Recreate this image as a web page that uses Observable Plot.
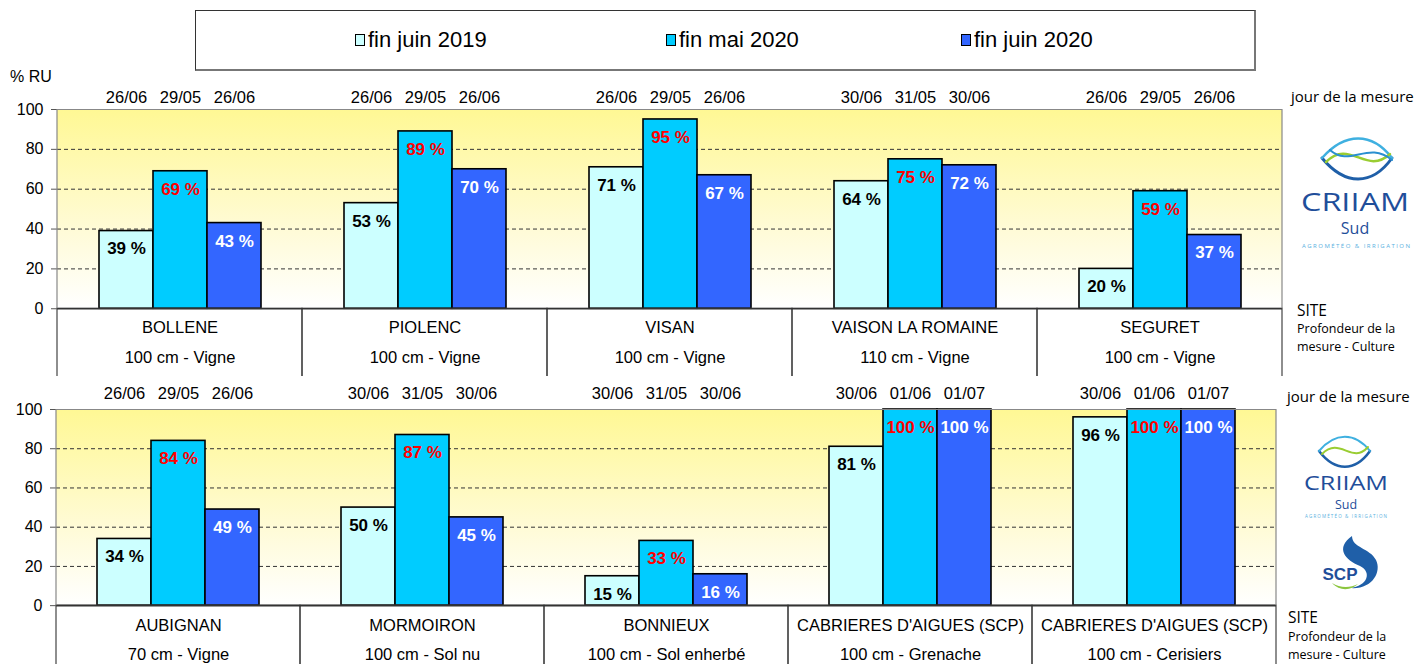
<!DOCTYPE html>
<html><head><meta charset="utf-8">
<script src="https://cdn.jsdelivr.net/npm/d3@7"></script>
<script src="https://cdn.jsdelivr.net/npm/@observablehq/plot@0.6"></script>
<style>
body{margin:0;background:#fff;width:1421px;height:664px;position:relative;overflow:hidden;font-family:"Liberation Sans",Arial,sans-serif;}
.abs{position:absolute;}
#legend{left:195px;top:10px;width:1058px;height:58px;border:1px solid #333;border-bottom:2px solid #777;border-right:2px solid #777;}
.item{position:absolute;top:16px;font-size:22px;white-space:nowrap;color:#000;}
.sw{display:inline-block;width:8px;height:10px;border:1px solid #000;margin-right:3px;vertical-align:1px;}
.side{font-family:"Open Sans","Noto Sans",sans-serif;color:#000;white-space:nowrap;}
</style></head><body>
<div id="legend" class="abs"></div>
<div class="abs" style="left:10px;top:68px;font-size:16px;">% RU</div>
<div id="top" class="abs" style="left:0;top:75px;height:301px;overflow:hidden"></div>
<div id="bot" class="abs" style="left:0;top:376px;height:288px;overflow:hidden"></div>
<div class="abs side" style="left:1291px;top:86px;font-size:15px;">jour de la mesure</div>
<div class="abs side" style="left:1297px;top:299px;font-size:15.5px;">SITE</div>
<div class="abs side" style="left:1297px;top:320px;font-size:12.5px;line-height:18px;">Profondeur de la<br>mesure - Culture</div>
<div class="abs side" style="left:1287px;top:386px;font-size:15px;">jour de la mesure</div>
<div class="abs side" style="left:1288px;top:606px;font-size:15.5px;">SITE</div>
<div class="abs side" style="left:1288px;top:628px;font-size:12.5px;line-height:18px;">Profondeur de la<br>mesure - Culture</div>
<svg class="abs" style="left:0;top:0" width="1421" height="664">
  <g fill="none" stroke-linecap="round">
    <path d="M1322 158 C1345 186,1372 186,1392 158" stroke="#1f5fa8" stroke-width="3"/>
    <path d="M1322 158 C1345 132,1372 132,1392 158" stroke="#3fb0e0" stroke-width="2.5"/>
    <path d="M1326 162 C1350 138,1366 176,1390 154" stroke="#9acd32" stroke-width="2.5"/>
    <path d="M1330 150 C1350 168,1368 140,1392 160" stroke="#2a8fd0" stroke-width="2"/>
  </g>
  <text x="1355" y="211" text-anchor="middle" font-family="Open Sans,Noto Sans,sans-serif" font-size="26" fill="#1f4e9a" textLength="108" lengthAdjust="spacingAndGlyphs">CRIIAM</text>
  <text x="1355" y="234" text-anchor="middle" font-family="Open Sans,Noto Sans,sans-serif" font-size="16" fill="#1f4e9a">Sud</text>
  <text x="1356" y="248" text-anchor="middle" font-family="Open Sans,Noto Sans,sans-serif" font-size="6" fill="#5ab0e0" textLength="108" lengthAdjust="spacing">AGROMÉTÉO &amp; IRRIGATION</text>
  <g fill="none" stroke-linecap="round">
    <path d="M1319 451 C1335 472,1355 472,1370 451" stroke="#1f5fa8" stroke-width="2.5"/>
    <path d="M1319 451 C1335 432,1355 432,1370 451" stroke="#3fb0e0" stroke-width="2"/>
    <path d="M1322 454 C1340 436,1352 465,1368 447" stroke="#9acd32" stroke-width="2"/>
  </g>
  <text x="1346" y="490" text-anchor="middle" font-family="Open Sans,Noto Sans,sans-serif" font-size="20" fill="#1f4e9a" textLength="84" lengthAdjust="spacingAndGlyphs">CRIIAM</text>
  <text x="1346" y="509" text-anchor="middle" font-family="Open Sans,Noto Sans,sans-serif" font-size="12.5" fill="#1f4e9a">Sud</text>
  <text x="1346" y="518" text-anchor="middle" font-family="Open Sans,Noto Sans,sans-serif" font-size="4.5" fill="#5ab0e0" textLength="82" lengthAdjust="spacing">AGROMÉTÉO &amp; IRRIGATION</text>
  <path d="M1352 536 C1335 548,1345 560,1360 566 C1372 572,1368 586,1350 588 C1372 590,1382 572,1376 560 C1370 548,1352 548,1352 536 Z" fill="#1f5fa8"/>
  <path d="M1332 583 C1340 592,1352 590,1358 584 C1350 588,1340 588,1332 583 Z" fill="#8cc63f"/>
  <text x="1340" y="580" text-anchor="middle" font-family="Liberation Sans,Arial,sans-serif" font-weight="bold" font-size="17" fill="#1f4e9a">SCP</text>
</svg>
<script>
const series = ["fin juin 2019", "fin mai 2020", "fin juin 2020"];
const seriesColors = ["#ccffff", "#00ccff", "#3366ff"];
const labelColors = ["#000000", "#ff0000", "#ffffff"];
const yTicks = [0, 20, 40, 60, 80, 100];
const gridTicks = [20, 40, 60, 80];

const sitesTop = ["BOLLENE", "PIOLENC", "VISAN", "VAISON LA ROMAINE", "SEGURET"];
const depthsTop = ["100 cm - Vigne", "100 cm - Vigne", "100 cm - Vigne", "110 cm - Vigne", "100 cm - Vigne"];
const datesTop = [["26/06","29/05","26/06"],["26/06","29/05","26/06"],["26/06","29/05","26/06"],["30/06","31/05","30/06"],["26/06","29/05","26/06"]];
const valuesTop = [[39,69,43],[53,89,70],[71,95,67],[64,75,72],[20,59,37]];

const sitesBot = ["AUBIGNAN", "MORMOIRON", "BONNIEUX", "CABRIERES D'AIGUES (SCP)", "CABRIERES D'AIGUES (SCP)"];
const depthsBot = ["70 cm - Vigne", "100 cm - Sol nu", "100 cm - Sol enherbé", "100 cm - Grenache", "100 cm - Cerisiers"];
const datesBot = [["26/06","29/05","26/06"],["30/06","31/05","30/06"],["30/06","31/05","30/06"],["30/06","01/06","01/07"],["30/06","01/06","01/07"]];
const valuesBot = [[34,84,49],[50,87,45],[15,33,16],[81,100,100],[96,100,100]];

// legend
const legendLeft = [355, 666, 961];
const lg = document.getElementById("legend");
series.forEach((s, j) => {
  const d = document.createElement("div");
  d.className = "item";
  d.style.left = (legendLeft[j] - 196) + "px";
  d.innerHTML = `<span class="sw" style="background:${seriesColors[j]}"></span>${s}`;
  lg.appendChild(d);
});

function panel(sites, depths, dates, values, o) {
  const idx = sites.map((_, i) => i);
  const rows = [];
  sites.forEach((s, i) => series.forEach((k, j) => rows.push({g: i, series: k, j, value: values[i][j], date: dates[i][j]})));
  const table = idx.map(i => ({g: i, site: sites[i], depth: depths[i]}));
  const gid = "grad" + o.id;
  const svg = Plot.plot({
    width: 1421, height: o.height,
    marginTop: o.mt, marginBottom: 0, marginLeft: o.ml, marginRight: o.mr,
    fx: {domain: idx, padding: 0, axis: null},
    x: {domain: series, paddingInner: 0, paddingOuter: 0.75, axis: null},
    y: {domain: [o.ymin, 100]},
    color: {domain: series, range: seriesColors},
    style: {fontFamily: "Liberation Sans, Arial, sans-serif", fontSize: "16px", overflow: "hidden", background: "transparent", color: "#000"},
    marks: [
      Plot.rect([0], {y1: 0, y2: 100, fill: `url(#${gid})`}),
      Plot.ruleY(gridTicks, {stroke: "#333", strokeDasharray: "4,3", strokeWidth: 1}),
      Plot.barY(rows, {fx: "g", x: "series", y: "value", fill: "series", stroke: "#000", strokeWidth: 1.6}),
      Plot.ruleY([100], {stroke: "#888", strokeWidth: 1.2}),
      Plot.rect([0], {y1: -120, y2: 0, fill: "none", stroke: "#444", strokeWidth: 1.2}),
      Plot.ruleY([0], {stroke: "#333", strokeWidth: 1.6}),
      ...series.map((k, j) => Plot.text(rows.filter(r => r.j === j), {
        fx: "g", x: "series", y: "value", text: d => d.value + " %", dy: 18,
        fill: labelColors[j], fontWeight: "bold", fontSize: 17
      })),
      Plot.text(rows, {fx: "g", x: "series", text: "date", frameAnchor: "top", lineAnchor: "middle", dy: o.dateDy, fontSize: 16.5}),
      Plot.text(table, {fx: "g", text: "site", y: o.siteY, fontSize: 16.5}),
      Plot.text(table, {fx: "g", text: "depth", y: o.depthY, fontSize: 16.5}),
      Plot.axisY(yTicks, {tickSize: 6, tickPadding: 8, fontSize: 16, label: null, stroke: "#555"})
    ]
  });
  const defs = d3.select(svg).insert("defs", ":first-child");
  const lgd = defs.append("linearGradient").attr("id", gid).attr("x1", 0).attr("y1", 0).attr("x2", 0).attr("y2", 1);
  lgd.append("stop").attr("offset", 0).attr("stop-color", "#fff894");
  lgd.append("stop").attr("offset", 0.6).attr("stop-color", "#fffbd6");
  lgd.append("stop").attr("offset", 1).attr("stop-color", "#ffffff");
  // side borders of the plotting area, placed with Plot's own scales
  const ys = svg.scale("y"), fxs = svg.scale("fx");
  const xl = fxs.apply(idx[0]), xr = fxs.apply(idx[idx.length - 1]) + fxs.bandwidth;
  const yTop = ys.apply(100), yZero = ys.apply(0);
  [xl, xr].forEach(x => d3.select(svg).append("line")
    .attr("x1", x).attr("x2", x).attr("y1", yTop).attr("y2", yZero)
    .attr("stroke", "#888").attr("stroke-width", 1.2));
  return svg;
}

document.getElementById("top").appendChild(panel(sitesTop, depthsTop, datesTop, valuesTop,
  {id: "t", height: 301, mt: 34, ml: 57, mr: 139, ymin: -34, dateDy: -12, siteY: -9.5, depthY: -24.6}));
document.getElementById("bot").appendChild(panel(sitesBot, depthsBot, datesBot, valuesBot,
  {id: "b", height: 288, mt: 33, ml: 54, mr: 144, ymin: -30, dateDy: -16, siteY: -10, depthY: -25}));
</script>
</body></html>
